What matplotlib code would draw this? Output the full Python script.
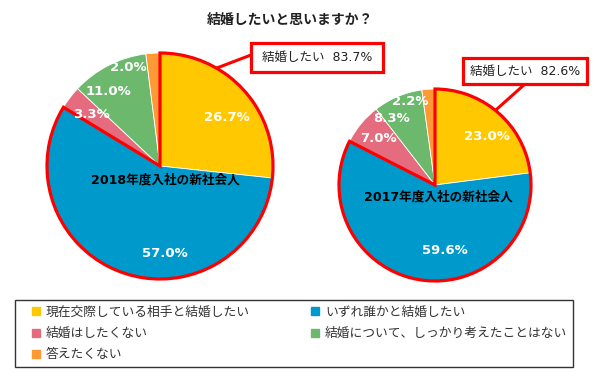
import matplotlib
matplotlib.use('Agg')
import matplotlib.pyplot as plt
from matplotlib.patches import Wedge, Rectangle
from matplotlib.lines import Line2D
import numpy as np

plt.rcParams['font.family'] = ['DejaVu Sans', 'Noto Sans CJK JP']

title = '結婚したいと思いますか？'
categories = ['現在交際している相手と結婚したい', 'いずれ誰かと結婚したい', '結婚はしたくない',
              '結婚について、しっかり考えたことはない', '答えたくない']
values_2018 = [26.7, 57.0, 3.3, 11.0, 2.0]
values_2017 = [23.0, 59.6, 7.0, 8.3, 2.2]
pie_names = ['2018年度入社の新社会人', '2017年度入社の新社会人']
want_label = '結婚したい'
want_2018 = 83.7
want_2017 = 82.6
colors = ['#FFC800', '#0099CC', '#E46C7E', '#6CB86C', '#FF9933']

W, H = 600, 380
fig = plt.figure(figsize=(6, 3.8), dpi=100)
ax = fig.add_axes([0, 0, 1, 1])


def Y(y):
    return H - y


def draw_pie(vals, center, r, want, name, name_xy, label_dist, label_off,
             edge_clock, box, anchor):
    ax.pie(vals, colors=colors, startangle=90, counterclock=False,
           center=center, radius=r, frame=True,
           wedgeprops=dict(edgecolor='white', linewidth=0.6))
    total = sum(vals)
    cum = np.cumsum([0] + vals) / total
    for i, v in enumerate(vals):
        mid = np.deg2rad((cum[i] + cum[i + 1]) / 2 * 360)
        x = center[0] + label_dist[i] * r * np.sin(mid) + label_off[i][0]
        y = center[1] + label_dist[i] * r * np.cos(mid) + label_off[i][1]
        ax.text(x, y, f'{v:.1f}%', color='white', fontweight='bold',
                fontsize=9.5, ha='center', va='center', zorder=6)
    share = (vals[0] + vals[1]) / total
    ax.add_patch(Wedge(center, r, 90 - 360 * share, 90, fill=False,
                       edgecolor='#FF0000', linewidth=2.3, zorder=5))
    ax.text(name_xy[0], name_xy[1], name, fontweight='bold', fontsize=9.1,
            color='black', ha='center', va='center', zorder=6)
    # callout
    bx0, by0, bx1, by1 = box
    a = np.deg2rad(edge_clock)
    ex = center[0] + r * np.sin(a)
    ey = center[1] + r * np.cos(a)
    ax.plot([anchor[0], ex], [anchor[1], ey], color='#FF0000', lw=2.2,
            zorder=4, solid_capstyle='butt')
    ax.add_patch(Rectangle((bx0, by1), bx1 - bx0, by0 - by1, facecolor='white',
                           edgecolor='#FF0000', linewidth=2.3, zorder=7))
    ax.text((bx0 + bx1) / 2, (by0 + by1) / 2, f'{want_label}  {want:.1f}%',
            fontsize=9, color='#222222', ha='center', va='center', zorder=8)


draw_pie(values_2018, (160, Y(166)), 113, want_2018, pie_names[0], (165, Y(180)),
         [0.73, 0.77, 0.76, 0.8, 0.92],
         [(6, -7), (33, -5), (0, 0), (-11, -6), (-25, -5)],
         30, (251, Y(43), 383, Y(72)), (251, Y(55)))
draw_pie(values_2017, (435, Y(185)), 96, want_2017, pie_names[1], (438, Y(197)),
         [0.74, 0.69, 0.76, 0.83, 0.9],
         [(5, -5), (21, 0), (0, 0), (-12, -7), (-19, -3)],
         39, (463, Y(58), 587, Y(84)), (525, Y(84)))

ax.text(290, Y(20), title, fontsize=10, fontweight='bold', color='#222222',
        ha='center', va='center')

ax.set_xlim(0, W)
ax.set_ylim(0, H)
ax.set_aspect('equal')
ax.axis('off')

handles = [Line2D([], [], marker='s', linestyle='none', markersize=5.5, color=c)
           for c in colors]
order = [0, 2, 4, 1, 3]
leg = fig.legend([handles[i] for i in order], [categories[i] for i in order],
                 ncol=2, loc='upper left',
                 bbox_to_anchor=(15 / W, 1 - 369 / H, 558 / W, 69 / H),
                 mode='expand', frameon=True, fancybox=False, edgecolor='black',
                 fontsize=9.2, labelspacing=0.65, handlelength=2.4,
                 handletextpad=-0.45, borderaxespad=0, borderpad=0.45)
leg.get_frame().set_linewidth(1.0)
for t in leg.get_texts():
    t.set_color('#333333')

fig.savefig('out.png', dpi=100)
